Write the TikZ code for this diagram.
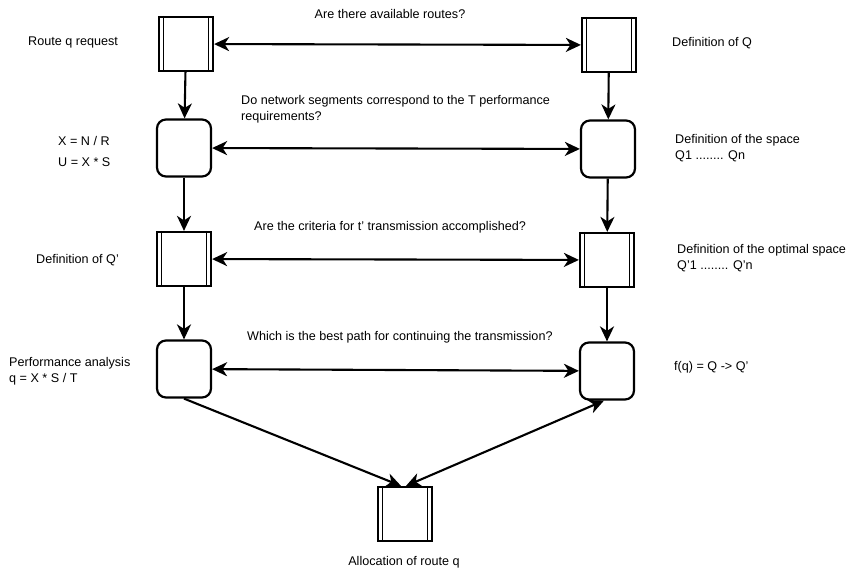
\documentclass[tikz,border=0pt]{standalone}
\usepackage{fontspec}
\setmainfont{Liberation Sans}
\usetikzlibrary{arrows.meta,calc}
\tikzset{
  box/.style={draw, line width=2.2pt, minimum width=54pt, minimum height=54pt, inner sep=0pt, fill=white},
  dbox/.style={box},
  rbox/.style={box, rounded corners=9pt, minimum height=57pt},
  conn/.style={line width=2.1pt, -{Stealth[length=15pt,width=14pt,inset=4.5pt]}},
  biconn/.style={line width=2.1pt, {Stealth[length=15pt,width=14pt,inset=4.5pt]}-{Stealth[length=15pt,width=14pt,inset=4.5pt]}},
  lbl/.style={font=\fontsize{12.6}{16}\selectfont, inner sep=0pt, align=left},
  bar/.style={line width=1.5pt}
}
\begin{document}
\begin{tikzpicture}[x=1pt,y=-1pt]
\useasboundingbox (0,0) rectangle (848,569);
% nodes
\node[dbox] (L1) at (186,44) {};
\node[rbox] (L2) at (184,148) {};
\node[dbox] (L3) at (184,259) {};
\node[rbox] (L4) at (184,369) {};
\node[dbox] (R1) at (609,45) {};
\node[rbox] (R2) at (608,149) {};
\node[dbox] (R3) at (607,260) {};
\node[rbox] (R4) at (607,371) {};
\node[dbox] (B) at (405,514) {};
\foreach \n in {L1,L3,R1,R3,B}{
  \draw[bar] ($(\n.north west)+(5.5,0)$) -- ($(\n.south west)+(5.5,0)$);
  \draw[bar] ($(\n.north east)+(-5.5,0)$) -- ($(\n.south east)+(-5.5,0)$);
}
% connectors
\draw[biconn] (L1) -- (R1);
\draw[biconn] (L2) -- (R2);
\draw[biconn] (L3) -- (R3);
\draw[biconn] (L4) -- (R4);
\draw[conn] (L1) -- (L2);
\draw[conn] (L2) -- (L3);
\draw[conn] (L3) -- (L4);
\draw[conn] (R1) -- (R2);
\draw[conn] (R2) -- (R3);
\draw[conn] (R3) -- (R4);
\coordinate (Bl) at ($(B.north)+(-4,0)$);
\coordinate (Br) at ($(B.north)+(1,0)$);
\coordinate (R4s) at ($(R4.south)+(-3,0)$);
\draw[conn] (L4.south) -- (Bl);
\draw[biconn] (Br) -- (R4s);
% labels
\node[lbl, anchor=center] (t1) at (390,14) {Are there available routes?};
\node[lbl, anchor=north west] (t2) at (241,95) {Do network segments correspond to the T performance\\requirements?};
\node[lbl, anchor=west] (t3) at (254,227) {Are the criteria for t' transmission accomplished?};
\node[lbl, anchor=west] (t4) at (247,337) {Which is the best path for continuing the transmission?};
\node[lbl, anchor=west] (a1) at (28,42) {Route q request};
\node[lbl, anchor=west] (a2) at (58,151) {X = N / R\\[5pt]U = X * S};
\node[lbl, anchor=west] (a3) at (36,260) {Definition of Q'};
\node[lbl, anchor=west] (a4) at (9,371) {Performance analysis\\q = X * S / T};
\node[lbl, anchor=west] (b1) at (672,43) {Definition of Q};
\node[lbl, anchor=west] (b2) at (675,148) {Definition of the space\\Q1 ........ Qn};
\node[lbl, anchor=west] (b3) at (677,258) {Definition of the optimal space\\Q'1 ........ Q'n};
\node[lbl, anchor=west] (b4) at (674,367) {f(q) = Q -> Q'};
\node[lbl, anchor=center] (c1) at (404,562) {Allocation of route q};
\end{tikzpicture}
\end{document}
